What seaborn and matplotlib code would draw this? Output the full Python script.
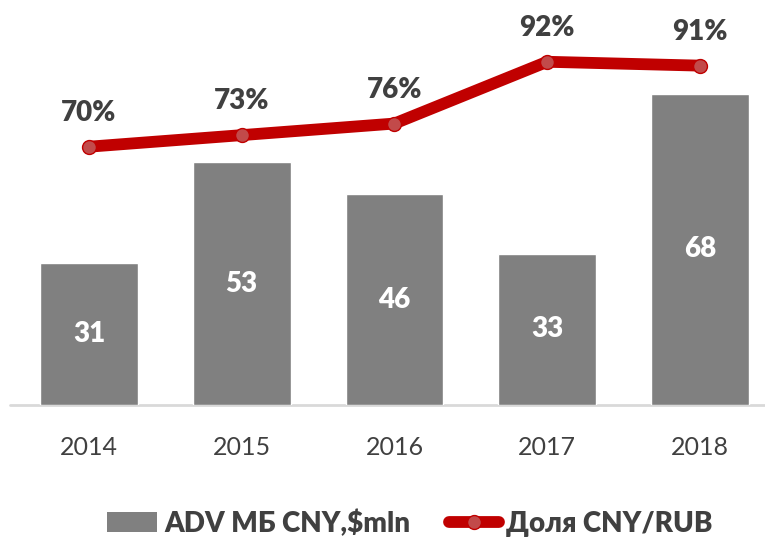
import matplotlib
matplotlib.use("Agg")
import matplotlib.pyplot as plt
import seaborn as sns
import pandas as pd
from matplotlib.lines import Line2D
from matplotlib.patches import Patch

years = ["2014", "2015", "2016", "2017", "2018"]
adv = [31, 53, 46, 33, 68]
share = [70, 73, 76, 92, 91]
bar_name = "ADV МБ CNY,$mln"
line_name = "Доля CNY/RUB"

sns.set_theme(style="white")
plt.rcParams["font.family"] = ["Lato", "DejaVu Sans"]
BOLD = "heavy"

df = pd.DataFrame({"year": years, "adv": adv, "share": share})

fig = plt.figure(figsize=(7.65, 5.41), dpi=100)
ax = fig.add_axes([10 / 765, 136 / 541, 1 - 10 / 765, 405 / 541])

sns.barplot(data=df, x="year", y="adv", color="#808080", saturation=1,
            width=0.64, ax=ax, zorder=2)
ax.set_xlim(-0.517, 4.426)
ax.set_ylim(0, 405 / 4.58)

for cont in ax.containers:
    ax.bar_label(cont, labels=[str(v) for v in adv], label_type="center",
                 color="white", fontsize=20, fontweight=BOLD)

ax2 = ax.twinx()
sns.lineplot(data=df, x="year", y="share", ax=ax2, color="#C00000",
             linewidth=8.5, marker="o", markersize=10,
             markerfacecolor="#C24A4A", markeredgecolor="#C00000",
             markeredgewidth=1, sort=False, zorder=3)
ax2.set_ylim(3.1, 108)
for i, v in enumerate(share):
    ax2.annotate(f"{v}%", (i, v), xytext=(0, 24.5), textcoords="offset points",
                 ha="center", va="center", fontsize=20, fontweight=BOLD,
                 color="#404040")

for a in (ax, ax2):
    for s in a.spines.values():
        s.set_visible(False)
    a.set_ylabel("")
    a.set_yticks([])
ax.set_xlabel("")
ax2.set_xlabel("")
ax.axhline(0, color="#D9D9D9", linewidth=2, zorder=1, clip_on=False)
ax.tick_params(axis="x", length=0, pad=22, labelsize=18, labelcolor="#404040")

handles = [Patch(facecolor="#808080", edgecolor="none"),
           Line2D([], [], color="#C00000", linewidth=8.5, marker="o",
                  markersize=10, markerfacecolor="#C24A4A",
                  markeredgecolor="#C00000", solid_capstyle="round")]
leg = fig.legend(handles, [bar_name, line_name], loc="center",
                 bbox_to_anchor=(410 / 765, 1 - 523 / 541), ncol=2,
                 frameon=False, handlelength=1.8, handletextpad=0.25,
                 columnspacing=1.4,
                 prop={"size": 20, "weight": BOLD})
for t in leg.get_texts():
    t.set_color("#404040")

fig.savefig("out.png", dpi=100)
